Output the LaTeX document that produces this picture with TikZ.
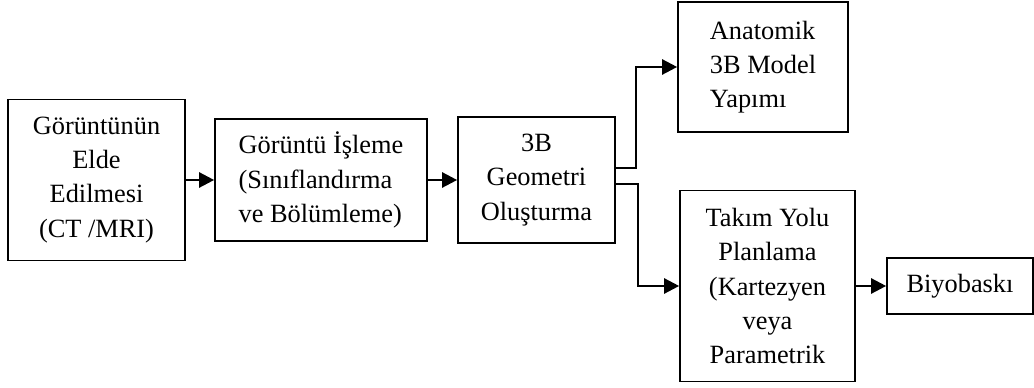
\documentclass[tikz,border=0pt]{standalone}
\usepackage{fontspec}
\setmainfont{Liberation Serif}
\usepackage{tikz}
\usetikzlibrary{arrows.meta, positioning, calc}

\begin{document}
\begin{tikzpicture}[>={Triangle[length=3mm, width=3mm]}, font=\fontsize{15}{19.4}\selectfont,
  kutu/.style={draw, line width=0.95pt, inner sep=0pt, align=center},
  ok/.style={->, line width=1.4pt}]
  \useasboundingbox (0,0) rectangle (20.68,7.74);

  % Bloky
  \node[kutu, minimum width=3.54cm, minimum height=3.22cm] (img) at (1.93,4.14) {Görüntünün\\Elde\\Edilmesi\\(CT /MRI)};
  \node[kutu, minimum width=4.24cm, minimum height=2.44cm, align=left] (proc) at (6.42,4.14) {Görüntü İşleme\\(Sınıflandırma\\ve Bölümleme)};
  \node[kutu, minimum width=3.14cm, minimum height=2.52cm] (geo) at (10.73,4.14) {3B\\Geometri\\Oluşturma};
  \node[kutu, minimum width=3.40cm, minimum height=2.60cm, align=left] (anat) at (15.26,6.40) {Anatomik\\3B Model\\Yapımı};
  \node[kutu, minimum width=3.50cm, minimum height=3.82cm] (path) at (15.35,2.02) {Takım Yolu\\Planlama\\(Kartezyen\\veya\\Parametrik};
  \node[kutu, minimum width=2.92cm, minimum height=1.12cm] (bio) at (19.20,2.02) {Biyobaskı};

  % Propojení
  \draw[ok] (img) -- (proc);
  \draw[ok] (proc) -- (geo);
  \draw[ok] ([yshift=2.4mm]geo.east) -- ++(0.40,0) |- (anat.west);
  \draw[ok] ([yshift=-0.8mm]geo.east) -- ++(0.44,0) |- (path.west);
  \draw[ok] (path) -- (bio);
\end{tikzpicture}
\end{document}
